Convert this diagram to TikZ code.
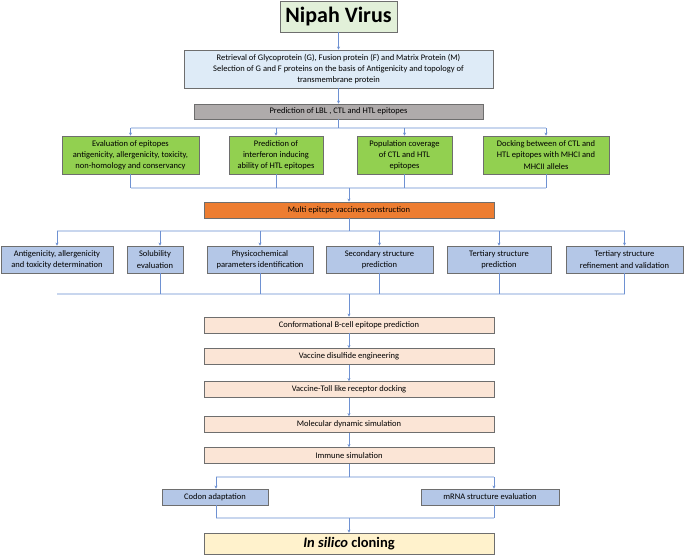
\documentclass[tikz,border=0pt]{standalone}
\usepackage{fontspec}
\setmainfont{Carlito}
\usetikzlibrary{arrows.meta,calc}
\definecolor{nipahfill}{RGB}{226,240,217}
\definecolor{retrfill}{RGB}{222,235,247}
\definecolor{lblfill}{RGB}{175,171,171}
\definecolor{greenfill}{RGB}{146,208,80}
\definecolor{orangefill}{RGB}{237,125,49}
\definecolor{bluefill}{RGB}{180,199,231}
\definecolor{pinkfill}{RGB}{251,229,214}
\definecolor{yellowfill}{RGB}{255,242,204}
\definecolor{boxborder}{RGB}{110,110,110}
\definecolor{linecol}{RGB}{110,145,210}
\definecolor{buscol}{RGB}{200,214,238}
\tikzset{
  box/.style={draw=boxborder, line width=0.8pt, align=center, inner sep=0pt,
    font=\fontsize{8.5}{11.2}\selectfont, text=black},
  arr/.style={draw=linecol, line width=0.6pt, -{Stealth[length=3pt,width=3pt]}},
  ln/.style={draw=linecol, line width=0.6pt},
  bus/.style={draw=buscol, line width=1.4pt},
}
\begin{document}
\begin{tikzpicture}[x=1pt,y=-1pt]
\fill[white] (0,0) rectangle (685,556);
\useasboundingbox (0,0) rectangle (685,556);
% nodes
\node[box, fill=nipahfill, minimum width=117, minimum height=31, font=\fontsize{22}{26}\selectfont\bfseries] (nipah) at (338.5,16.5) {Nipah Virus};
\node[box, fill=retrfill, minimum width=309, minimum height=38] (retr) at (338.5,69) {Retrieval of Glycoprotein (G), Fusion protein (F) and Matrix Protein (M)\\Selection of G and F proteins on the basis of Antigenicity and topology of\\transmembrane protein};
\node[box, fill=lblfill, minimum width=289, minimum height=15] (lbl) at (338.5,111.5) {Prediction of LBL , CTL and HTL epitopes};
\node[box, fill=greenfill, minimum width=137, minimum height=38] (g1) at (130.5,155) {Evaluation of epitopes\\antigenicity, allergenicity, toxicity,\\non-homology and conservancy};
\node[box, fill=greenfill, minimum width=94, minimum height=38] (g2) at (276,155) {Prediction of\\interferon inducing\\ability of HTL epitopes};
\node[box, fill=greenfill, minimum width=95, minimum height=38] (g3) at (404.5,155) {Population coverage\\of CTL and HTL\\epitopes};
\node[box, fill=greenfill, minimum width=126, minimum height=38] (g4) at (546,155) {Docking between of CTL and\\HTL epitopes with MHCI and\\MHCII alleles};
\node[box, fill=orangefill, minimum width=290, minimum height=16] (mev) at (349,210) {Multi epitcpe vaccines construction};
\node[box, fill=bluefill, minimum width=112, minimum height=27] (b1) at (57,259.5) {Antigenicity, allergenicity\\and toxicity determination};
\node[box, fill=bluefill, minimum width=56, minimum height=27] (b2) at (155,259.5) {Solubility\\evaluation};
\node[box, fill=bluefill, minimum width=106, minimum height=27] (b3) at (260,259.5) {Physicochemical\\parameters identification};
\node[box, fill=bluefill, minimum width=107, minimum height=27] (b4) at (379.5,259.5) {Secondary structure\\prediction};
\node[box, fill=bluefill, minimum width=104, minimum height=27] (b5) at (499,259.5) {Tertiary structure\\prediction};
\node[box, fill=bluefill, minimum width=117, minimum height=27] (b6) at (624.5,259.5) {Tertiary structure\\refinement and validation};
\node[box, fill=pinkfill, minimum width=290, minimum height=16] (p1) at (349,325) {Conformational B-cell epitope prediction};
\node[box, fill=pinkfill, minimum width=290, minimum height=16] (p2) at (349,356.5) {Vaccine disulfide engineering};
\node[box, fill=pinkfill, minimum width=290, minimum height=16] (p3) at (349,389.5) {Vaccine-Toll like receptor docking};
\node[box, fill=pinkfill, minimum width=290, minimum height=16] (p4) at (349,424.5) {Molecular dynamic simulation};
\node[box, fill=pinkfill, minimum width=290, minimum height=16] (p5) at (349,455.5) {Immune simulation};
\node[box, fill=bluefill, minimum width=106, minimum height=16] (codon) at (215,497) {Codon adaptation};
\node[box, fill=bluefill, minimum width=138, minimum height=16] (mrna) at (490,497) {mRNA structure evaluation};
\node[box, fill=yellowfill, minimum width=290, minimum height=21, font=\fontsize{14.5}{17}\selectfont\bfseries] (clon) at (349,543.5) {\textit{In silico} cloning};
% bus coordinates
\coordinate (busA) at (338.5,128);
\coordinate (busB) at (349,188);
\coordinate (busC) at (349,231);
\coordinate (busD) at (349,294);
\coordinate (busE) at (349,477);
\coordinate (busF) at (349,518);
% connectors
\draw[arr] (nipah) -- (retr);
\draw[arr] (retr) -- (lbl);
\draw[bus] (g1.north |- busA) -- (g4.north |- busA);
\draw[ln] (lbl.south) -- (busA);
\foreach \g in {g1,g2,g3,g4}{\draw[arr] (\g.north |- busA) -- (\g.north);}
\draw[bus] (g1.south |- busB) -- (g4.south |- busB);
\foreach \g in {g1,g2,g3,g4}{\draw[ln] (\g.south) -- (\g.south |- busB);}
\draw[arr] (busB) -- (mev.north);
\draw[bus] (b1.north |- busC) -- (b6.north |- busC);
\draw[ln] (mev.south) -- (busC);
\draw[arr] (b1.north |- busC) -- (b1.north);
\draw[arr] ([xshift=5pt]b2.north |- busC) -- ([xshift=5pt]b2.north);
\foreach \b in {b3,b4,b5,b6}{\draw[arr] (\b.north |- busC) -- (\b.north);}
\draw[bus] (b1.south |- busD) -- (b6.south |- busD);
\draw[ln] ([xshift=5pt]b2.south) -- ([xshift=5pt]b2.south |- busD);
\foreach \b in {b3,b4,b5,b6}{\draw[ln] (\b.south) -- (\b.south |- busD);}
\draw[arr] (busD) -- (p1.north);
\draw[arr] (p1) -- (p2);
\draw[arr] (p2) -- (p3);
\draw[arr] (p3) -- (p4);
\draw[arr] (p4) -- (p5);
\draw[bus] ([xshift=1pt]codon.north |- busE) -- ([xshift=4pt]mrna.north |- busE);
\draw[ln] (p5.south) -- (busE);
\draw[arr] ([xshift=1pt]codon.north |- busE) -- ([xshift=1pt]codon.north);
\draw[arr] ([xshift=4pt]mrna.north |- busE) -- ([xshift=4pt]mrna.north);
\draw[bus] ([xshift=1pt]codon.south |- busF) -- ([xshift=4pt]mrna.south |- busF);
\draw[ln] ([xshift=1pt]codon.south) -- ([xshift=1pt]codon.south |- busF);
\draw[ln] ([xshift=4pt]mrna.south) -- ([xshift=4pt]mrna.south |- busF);
\draw[arr] (busF) -- (clon.north);
\end{tikzpicture}
\end{document}
